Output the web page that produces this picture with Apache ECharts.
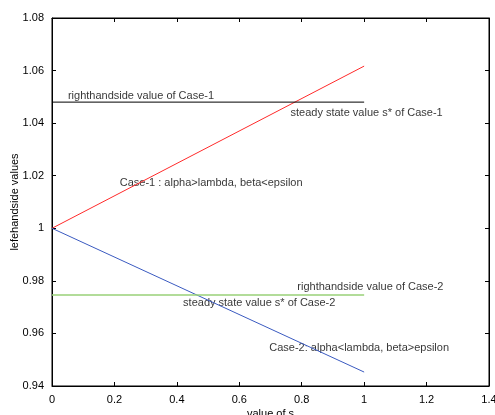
<!DOCTYPE html>
<html><head><meta charset="utf-8">
<script src="https://cdn.jsdelivr.net/npm/echarts@6/dist/echarts.min.js"></script>
<style>html,body{margin:0;padding:0;background:#fff}#c{width:495px;height:415px}</style>
</head><body><div id="c"></div>
<script>
var xRange = [0, 1.4];
var yRange = [0.94, 1.08];
var case1Line = [[0, 1], [1, 1.0617]];
var case2Line = [[0, 1], [1, 0.9453]];
var rhs1 = [[0, 1.048], [1, 1.048]];
var rhs2 = [[0, 0.9746], [1, 0.9746]];
var annotations = [
  [0.051, 1.0503, 'righthandside value of Case-1'],
  [0.764, 1.0439, 'steady state value s* of Case-1'],
  [0.217, 1.0172, 'Case-1 : alpha>lambda, beta<epsilon'],
  [0.786, 0.9777, 'righthandside value of Case-2'],
  [0.42, 0.9716, 'steady state value s* of Case-2'],
  [0.696, 0.9545, 'Case-2: alpha<lambda, beta>epsilon']
];
var FONT = 'Liberation Sans';
var chart = echarts.init(document.getElementById('c'));
function ax(extra) {
  return Object.assign({
    axisLine: {show: true, onZero: false, lineStyle: {color: '#000', width: 1}},
    axisTick: {show: true, inside: true, length: 4, lineStyle: {color: '#000'}},
    splitLine: {show: false},
    axisLabel: {color: '#000', fontFamily: FONT, fontSize: 11}
  }, extra);
}
chart.setOption({
  animation: false,
  grid: {left: 52, right: 6, top: 18, bottom: 29, containLabel: false, outerBoundsMode: 'none',
         show: true, borderColor: '#000', borderWidth: 1, backgroundColor: 'transparent'},
  xAxis: [
    ax({type: 'value', min: 0, max: 1.4, interval: 0.2, position: 'bottom',
        name: 'value of s', nameLocation: 'middle', nameGap: 22, nameMoveOverlap: false,
        nameTextStyle: {color: '#000', fontFamily: FONT, fontSize: 11}}),
    ax({type: 'value', min: 0, max: 1.4, interval: 0.2, position: 'top', axisLabel: {show: false}})
  ],
  yAxis: [
    ax({type: 'value', min: 0.94, max: 1.08, interval: 0.02, position: 'left',
        name: 'lefehandside values', nameLocation: 'middle', nameGap: 32, nameRotate: 90, nameMoveOverlap: false,
        nameTextStyle: {color: '#000', fontFamily: FONT, fontSize: 11}}),
    ax({type: 'value', min: 0.94, max: 1.08, interval: 0.02, position: 'right', axisLabel: {show: false}})
  ],
  series: [
    {type: 'line', data: case1Line, symbol: 'none', lineStyle: {color: '#ff2a2a', width: 1}},
    {type: 'line', data: case2Line, symbol: 'none', lineStyle: {color: '#3a5ac0', width: 1}},
    {type: 'line', data: rhs1, symbol: 'none', lineStyle: {color: '#000', width: 1}},
    {type: 'line', data: rhs2, symbol: 'none', lineStyle: {color: '#99d077', width: 1.5}},
    {type: 'scatter', data: annotations, symbolSize: 0, silent: true,
     label: {show: true, position: 'right', distance: 0, color: '#000', fontFamily: FONT, fontSize: 11,
             formatter: function (p) { return p.data[2]; }}},
    {type: 'line', xAxisIndex: 1, yAxisIndex: 1, data: [], symbol: 'none', silent: true}
  ]
});
</script></body></html>
